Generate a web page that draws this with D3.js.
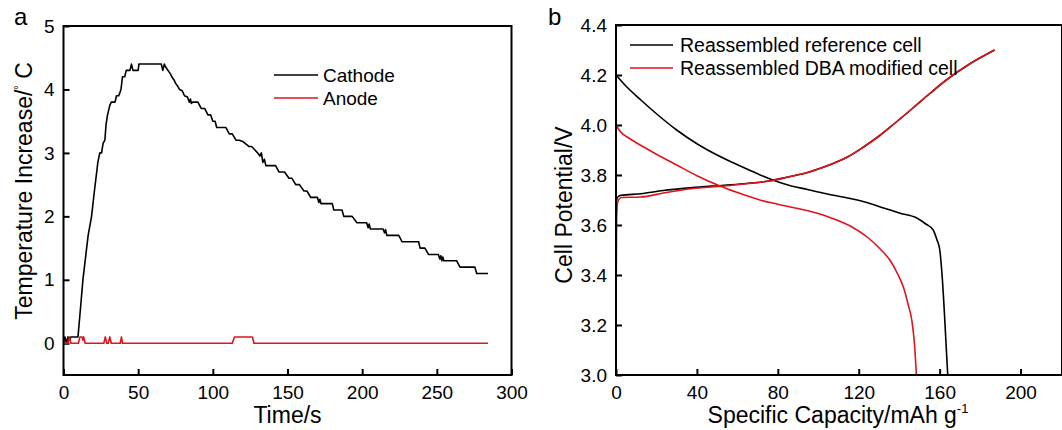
<!DOCTYPE html>
<html>
<head>
<meta charset="utf-8">
<script src="https://cdn.jsdelivr.net/npm/d3@7"></script>
<style>
  body { margin: 0; background: #fff; }
  svg text { font-family: "Liberation Sans", Arial, sans-serif; fill: #000; }
</style>
</head>
<body>
<div id="chart"></div>
<script>
// panel a: temperature increase vs time
const cathodeTime = [0,1,2,3,4,5,9.7,11,13,15,16.5,18.8,20.5,23,24.3,25.5,26.5,27.7,28.5,29.5,31,32,34.5,35.5,37,38.5,39.5,41,42,44.5,45.5,46.5,50,50.5,65.5,66.5,67.5,68.5,70,71.5,72.5,74,75,76.5,77.7,79.5,81,83,84.3,85,85.6,86.5,90,92.2,94.5,96.7,98.5,100,101.5,102.6,108.8,111,113,115.5,117.7,120,124.3,126,130,131.5,132.5,133.5,134.5,135.5,142,144.3,148,151,153,155.5,158,161,163,165.5,170,171,171.7,172.5,180,181,186.5,187.7,193.3,196.5,203,204,204.7,205.5,214,215,215.7,216.5,224.5,226.7,237.8,238.8,242,244.4,251,252,252.7,253.3,254,254.7,263.3,265.5,275.5,276.7,284.3];
const cathodeTemp = [0,0.1,0,0.1,0.05,0.1,0.1,0.45,1.0,1.4,1.7,2.0,2.36,2.85,3.0,3.0,3.15,3.2,3.45,3.6,3.75,3.8,3.8,3.9,3.9,4.0,4.2,4.2,4.3,4.3,4.4,4.3,4.3,4.4,4.4,4.3,4.4,4.35,4.3,4.25,4.2,4.15,4.1,4.05,4.0,3.98,3.9,3.88,3.8,3.85,3.78,3.8,3.8,3.7,3.7,3.6,3.6,3.5,3.5,3.4,3.4,3.3,3.3,3.2,3.2,3.18,3.1,3.1,3.0,2.95,3.0,2.85,2.9,2.8,2.8,2.7,2.7,2.6,2.6,2.5,2.5,2.4,2.4,2.3,2.3,2.22,2.27,2.2,2.2,2.1,2.1,2.0,2.0,1.9,1.9,1.82,1.88,1.8,1.8,1.74,1.79,1.7,1.7,1.6,1.6,1.5,1.5,1.4,1.4,1.33,1.38,1.3,1.36,1.3,1.3,1.2,1.2,1.1,1.1];
const anodeTime = [0,3,4,5,10,11,12.5,13,13.5,14.5,27,28,29,30,31,32,38,38.8,39.5,113,114.5,126.5,127.5,284.3];
const anodeTemp = [0,0,0.1,0,0,0.1,0.1,0.05,0.1,0,0,0.1,0,0,0.1,0,0,0.1,0,0,0.1,0.1,0,0];
const timeTicks = [0,50,100,150,200,250,300];
const tempTicks = [0,1,2,3,4,5];

// panel b: cell potential vs specific capacity
const refDisCap = [0,5,12.3,20,30,40,45.3,55,61.7,70,76.5,85,94.7,104,114.4,124,132.7,140,148.7,153,156.8,158.7,160,161.2,162.4,163.2,164];
const refDisV = [4.2,4.155,4.10,4.045,3.98,3.925,3.90,3.86,3.835,3.805,3.783,3.76,3.742,3.725,3.708,3.69,3.667,3.648,3.628,3.605,3.58,3.54,3.504,3.40,3.242,3.12,3.0];
const refChgCap = [0,0.3,1,2.5,12.3,23.4,37,53.5,64.5,76.5,85,94.7,100.7,107,114.4,122,130.4,138,146.8,155,163.3,175,187.2];
const refChgV = [3.62,3.70,3.713,3.719,3.725,3.738,3.749,3.759,3.766,3.777,3.792,3.81,3.826,3.845,3.872,3.91,3.958,4.008,4.068,4.125,4.18,4.245,4.3];
const dbaDisCap = [0,2,6.9,13.5,20,30,40,51.4,60,71.1,80,89.2,95.8,102.4,108.4,116,124.5,130.5,135.8,139.5,142.3,144.5,146.3,147.6,148.5];
const dbaDisV = [4.0,3.975,3.945,3.913,3.883,3.84,3.797,3.756,3.73,3.70,3.683,3.667,3.655,3.64,3.622,3.595,3.55,3.505,3.455,3.40,3.346,3.28,3.216,3.12,3.0];
const dbaChgCap = [0,0.3,0.8,2.5,12.3,23.4,37,53.5,64.5,76.5,85,94.7,100.7,107,114.4,122,130.4,138,146.8,155,163.3,175,187.2];
const dbaChgV = [3.24,3.62,3.69,3.71,3.712,3.728,3.745,3.756,3.765,3.777,3.792,3.81,3.826,3.845,3.872,3.91,3.958,4.008,4.068,4.125,4.18,4.245,4.3];
const capTicks = [0,40,80,120,160,200];
const potTicks = [3.0,3.2,3.4,3.6,3.8,4.0,4.2,4.4];

const zip = (xs, ys) => xs.map((x, i) => [x, ys[i]]);

const svg = d3.select("#chart").append("svg")
    .attr("width", 1062)
    .attr("height", 430);

svg.append("rect").attr("width", 1062).attr("height", 430).attr("fill", "#fff");

function styleAxis(g) {
    g.select(".domain").remove();
    g.selectAll(".tick line").attr("stroke", "#000").attr("stroke-width", 2);
    g.selectAll(".tick text").style("font-size", "19px").attr("fill", "#000");
}

// ---------- panel a ----------
const xa = d3.scaleLinear().domain([0, 300]).range([63.5, 511.5]);
const ya = d3.scaleLinear().domain([-0.5, 5]).range([375, 26]);

svg.append("g")
    .attr("transform", "translate(0,375)")
    .call(d3.axisBottom(xa).tickValues(timeTicks).tickSizeInner(-6).tickSizeOuter(0).tickPadding(11))
    .call(styleAxis);

svg.append("g")
    .attr("transform", "translate(63.5,0)")
    .call(d3.axisLeft(ya).tickValues(tempTicks).tickFormat(d3.format("d")).tickSizeInner(-6).tickSizeOuter(0).tickPadding(9))
    .call(styleAxis);

const lineA = d3.line().x(d => xa(d[0])).y(d => ya(d[1]));

svg.append("path")
    .datum(zip(cathodeTime, cathodeTemp))
    .attr("fill", "none").attr("stroke", "#000").attr("stroke-width", 1.6)
    .attr("stroke-linejoin", "round")
    .attr("d", lineA);

svg.append("path")
    .datum(zip(anodeTime, anodeTemp))
    .attr("fill", "none").attr("stroke", "#e0141c").attr("stroke-width", 1.6)
    .attr("stroke-linejoin", "round")
    .attr("d", lineA);

svg.append("rect")
    .attr("x", 63.5).attr("y", 26).attr("width", 448).attr("height", 349)
    .attr("fill", "none").attr("stroke", "#000").attr("stroke-width", 2);

// legend a
[["Cathode", "#000", 75], ["Anode", "#e0141c", 98]].forEach(([name, col, y]) => {
    svg.append("line").attr("x1", 274).attr("x2", 318).attr("y1", y).attr("y2", y)
        .attr("stroke", col).attr("stroke-width", 1.6);
    svg.append("text").attr("x", 323).attr("y", y + 7).style("font-size", "19px").text(name);
});

svg.append("text").attr("x", 14).attr("y", 25).style("font-size", "24px").text("a");

svg.append("text")
    .attr("x", 287.5).attr("y", 423)
    .attr("text-anchor", "middle").style("font-size", "23px")
    .text("Time/s");

const ytA = svg.append("text")
    .attr("transform", "translate(32,191) rotate(-90)")
    .attr("text-anchor", "middle").style("font-size", "23px");
ytA.append("tspan").text("Temperature Increase/");
ytA.append("tspan").attr("dy", -10).style("font-size", "11px").text("°");
ytA.append("tspan").attr("dy", 10).text(" C");

// ---------- panel b ----------
const xb = d3.scaleLinear().domain([0, 220]).range([616, 1061]);
const yb = d3.scaleLinear().domain([3.0, 4.4]).range([375, 25]);

svg.append("g")
    .attr("transform", "translate(0,375)")
    .call(d3.axisBottom(xb).tickValues(capTicks).tickSizeInner(-6).tickSizeOuter(0).tickPadding(11))
    .call(styleAxis);

svg.append("g")
    .attr("transform", "translate(616,0)")
    .call(d3.axisLeft(yb).tickValues(potTicks).tickFormat(d3.format(".1f")).tickSizeInner(-6).tickSizeOuter(0).tickPadding(9))
    .call(styleAxis);

const lineB = d3.line().x(d => xb(d[0])).y(d => yb(d[1])).curve(d3.curveMonotoneX);

[[refDisCap, refDisV, "#000"], [refChgCap, refChgV, "#000"],
 [dbaDisCap, dbaDisV, "#e0141c"], [dbaChgCap, dbaChgV, "#e0141c"]].forEach(([xs, ys, col]) => {
    svg.append("path")
        .datum(zip(xs, ys))
        .attr("fill", "none").attr("stroke", col).attr("stroke-width", 1.6)
        .attr("d", lineB);
});

svg.append("rect")
    .attr("x", 616).attr("y", 25).attr("width", 446).attr("height", 350)
    .attr("fill", "none").attr("stroke", "#000").attr("stroke-width", 2);

// legend b
[["Reassembled reference cell", "#000", 45], ["Reassembled DBA modified cell", "#e0141c", 68]].forEach(([name, col, y]) => {
    svg.append("line").attr("x1", 630).attr("x2", 673).attr("y1", y).attr("y2", y)
        .attr("stroke", col).attr("stroke-width", 1.6);
    svg.append("text").attr("x", 680).attr("y", y + 7).style("font-size", "19.5px").text(name);
});

svg.append("text").attr("x", 548).attr("y", 25).style("font-size", "24px").text("b");

const xtB = svg.append("text")
    .attr("x", 838).attr("y", 423)
    .attr("text-anchor", "middle").style("font-size", "23px");
xtB.append("tspan").text("Specific Capacity/mAh g");
xtB.append("tspan").attr("dy", -10).style("font-size", "13px").text("-1");

svg.append("text")
    .attr("transform", "translate(572,205) rotate(-90)")
    .attr("text-anchor", "middle").style("font-size", "23px")
    .text("Cell Potential/V");
</script>
</body>
</html>
